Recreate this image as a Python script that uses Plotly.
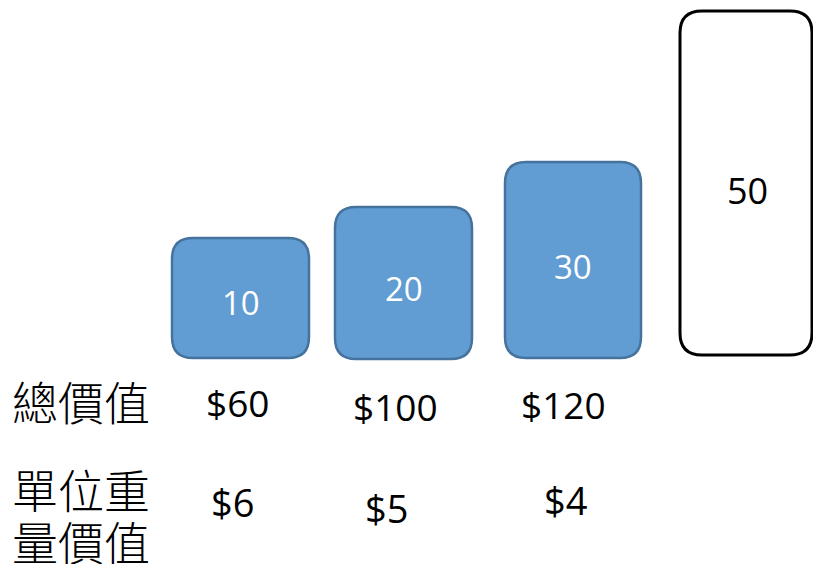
import plotly.graph_objects as go

# ---- data ----
item_weights = [10, 20, 30]
knapsack_capacity = 50
total_values = [60, 100, 120]
unit_values = [6, 5, 4]
row_label_total = "總價值"
row_label_unit = ["單位重", "量價值"]

# ---- layout (pixel positions on an 813x564 canvas) ----
W, H = 813, 564
box_x0 = [172, 335, 505]
box_x1 = [309, 472, 641]
box_y0 = [238, 207, 162]
box_y1 = [358, 359, 358]
weight_label_pos = [(241, 302), (404, 288), (573, 266)]
sack_box = (680, 812, 11, 355)
sack_label_pos = (747, 190)
total_label_pos = [(237, 402), (395, 406), (563, 404)]
unit_label_pos = [(232, 502), (386, 508), (565, 500)]
unit_row_label_y = [488, 540]

FILL = "#619dd2"
EDGE = "#45739d"
NUM_FONT = "Open Sans, Lato, sans-serif"
CJK_FONT = "Noto Sans CJK TC, Noto Sans CJK SC, sans-serif"


def rounded_path(x0, x1, y0, y1, r):
    return (f"M {x0+r},{y0} L {x1-r},{y0} Q {x1},{y0} {x1},{y0+r} "
            f"L {x1},{y1-r} Q {x1},{y1} {x1-r},{y1} L {x0+r},{y1} "
            f"Q {x0},{y1} {x0},{y1-r} L {x0},{y0+r} Q {x0},{y0} {x0+r},{y0} Z")


fig = go.Figure()
fig.add_trace(go.Scatter(x=[0, W], y=[0, H], mode="markers",
                         marker=dict(opacity=0), hoverinfo="skip", showlegend=False))

shapes = []
annotations = []
for i, w in enumerate(item_weights):
    shapes.append(dict(type="path", xref="x", yref="y",
                       path=rounded_path(box_x0[i], box_x1[i], box_y0[i], box_y1[i], 21),
                       fillcolor=FILL, line=dict(color=EDGE, width=2.5)))
    x, y = weight_label_pos[i]
    annotations.append(dict(x=x, y=y, text=str(w), showarrow=False,
                            xanchor="center", yanchor="middle",
                            font=dict(family=NUM_FONT, size=33, color="white")))

sx0, sx1, sy0, sy1 = sack_box
shapes.append(dict(type="path", xref="x", yref="y",
                   path=rounded_path(sx0, sx1, sy0, sy1, 22),
                   fillcolor="white", line=dict(color="black", width=3)))
annotations.append(dict(x=sack_label_pos[0], y=sack_label_pos[1], text=str(knapsack_capacity),
                        showarrow=False, xanchor="center", yanchor="middle",
                        font=dict(family=NUM_FONT, size=36, color="black")))

annotations.append(dict(x=10, y=400, text=row_label_total, showarrow=False,
                        xanchor="left", yanchor="middle",
                        font=dict(family=CJK_FONT, size=46, color="black", weight=300)))
for line, y in zip(row_label_unit, unit_row_label_y):
    annotations.append(dict(x=10, y=y, text=line, showarrow=False,
                            xanchor="left", yanchor="middle",
                            font=dict(family=CJK_FONT, size=46, color="black", weight=300)))

for i, v in enumerate(total_values):
    x, y = total_label_pos[i]
    annotations.append(dict(x=x, y=y, text=f"${v}", showarrow=False,
                            xanchor="center", yanchor="middle",
                            font=dict(family=NUM_FONT, size=37, color="black")))
for i, v in enumerate(unit_values):
    x, y = unit_label_pos[i]
    annotations.append(dict(x=x, y=y, text=f"${v}", showarrow=False,
                            xanchor="center", yanchor="middle",
                            font=dict(family=NUM_FONT, size=38, color="black")))

fig.update_layout(
    width=W, height=H, margin=dict(l=0, r=0, t=0, b=0),
    paper_bgcolor="white", plot_bgcolor="white",
    xaxis=dict(range=[0, W], visible=False, fixedrange=True),
    yaxis=dict(range=[H, 0], visible=False, fixedrange=True),
    shapes=shapes, annotations=annotations, showlegend=False,
)
fig.write_html("out.html", config={"displayModeBar": False},
               post_script="document.body.style.margin='0px';")
